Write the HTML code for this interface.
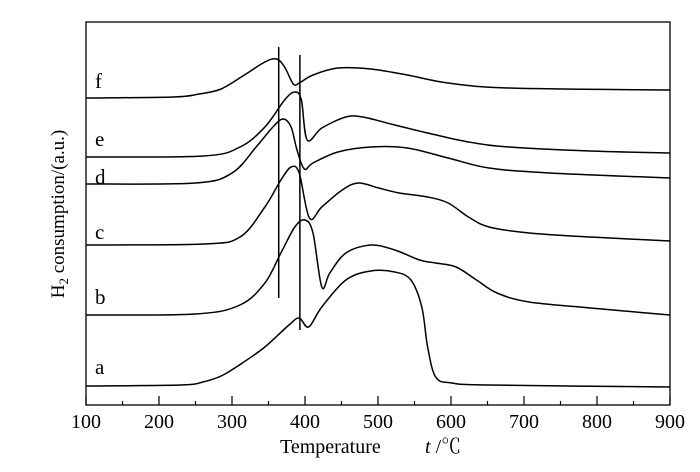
<!DOCTYPE html>
<html><head><meta charset="utf-8">
<style>
body{margin:0;background:#fff;}
svg{display:block;font-family:"Liberation Serif","Noto Serif CJK SC",serif;}
</style></head>
<body>
<svg id="chart" width="700" height="472">
<rect x="86" y="22" width="584" height="383" fill="none" stroke="#000" stroke-width="1.3"/>
<g id="ticks"></g>
<g id="series"></g>
<text x="280" y="453" font-size="20">Temperature</text>
<text x="425" y="453" font-size="20"><tspan font-style="italic">t</tspan> /℃</text>
<text transform="translate(64,214) rotate(-90)" text-anchor="middle" font-size="19">H<tspan font-size="13" dy="4">2</tspan><tspan dy="-4"> consumption/(a.u.)</tspan></text>
</svg>
<script>
const xTicks=[100,200,300,400,500,600,700,800,900];
const seriesLabels=["a","b","c","d","e","f"];
const labelValues=[37,107,172,227,265,323];
const Ta=[100,230,260,285,310,345,378,392,405,423,456,490,523,545,560,568,579,601,652,900];
const Va=[19,20,23,29,40,58,80,87,78,98,125,134,133,125,98,58,28,22,20,18];
const Tb=[100,250,311,345,367,386,400,411,423,434,456,490,523,557,579,607,635,663,707,791,900];
const Vb=[90,91,100,122,152,178,185,172,118,132,152,160,155,145,142,138,125,112,103,97,90];
const Tc=[100,261,311,345,367,381,392,406,423,451,473,501,529,568,596,624,652,707,791,900];
const Vc=[160,161,168,198,225,238,232,187,198,215,222,217,212,208,202,188,178,172,168,164];
const Td=[100,250,300,333,356,370,381,389,399,411,445,490,540,596,652,735,900];
const Vd=[221,222,232,258,278,286,278,255,236,242,253,258,257,247,237,232,227];
const Te=[100,261,311,345,372,386,395,403,423,456,479,523,568,624,680,791,900];
const Ve=[248,249,258,278,305,313,305,265,277,288,288,280,272,263,258,254,252];
const Tf=[100,220,255,285,317,345,361,372,384,392,411,445,490,540,596,680,900];
const Vf=[307,308,311,316,330,343,346,338,321,322,330,337,336,330,322,317,315];
const refLineT=[364,393];
const refLineTop=[358,350];
const refLineBottom=[107,75];

const X0=86,X1=670,Y0=405;
const xs=t=>X0+(t-100)/800*(X1-X0);
const ys=v=>Y0-v;
const NS="http://www.w3.org/2000/svg";
const tg=document.getElementById('ticks');
const sg=document.getElementById('series');

for(let t=100;t<=900;t+=50){
  const major=(t%100===0);
  const l=document.createElementNS(NS,'line');
  l.setAttribute('x1',xs(t));l.setAttribute('x2',xs(t));
  l.setAttribute('y1',Y0);l.setAttribute('y2',Y0-(major?9:4));
  l.setAttribute('stroke','#000');l.setAttribute('stroke-width','1.2');
  
  
  tg.appendChild(l);
}
xTicks.forEach(t=>{
  const tx=document.createElementNS(NS,'text');
  tx.setAttribute('x',xs(t));tx.setAttribute('y',428);
  tx.setAttribute('text-anchor','middle');tx.setAttribute('font-size','20');
  tx.textContent=t;
  
  
  tg.appendChild(tx);
});

function smooth(pts){
  let d='M'+pts[0][0].toFixed(1)+','+pts[0][1].toFixed(1);
  for(let i=0;i<pts.length-1;i++){
    const p0=pts[Math.max(0,i-1)],p1=pts[i],p2=pts[i+1],p3=pts[Math.min(pts.length-1,i+2)];
    const c1x=p1[0]+(p2[0]-p0[0])/6,c1y=p1[1]+(p2[1]-p0[1])/6;
    const c2x=p2[0]-(p3[0]-p1[0])/6,c2y=p2[1]-(p3[1]-p1[1])/6;
    d+=' C'+c1x.toFixed(1)+','+c1y.toFixed(1)+' '+c2x.toFixed(1)+','+c2y.toFixed(1)+' '+p2[0].toFixed(1)+','+p2[1].toFixed(1);
  }
  return d;
}
const all=[[Ta,Va],[Tb,Vb],[Tc,Vc],[Td,Vd],[Te,Ve],[Tf,Vf]];
all.forEach((s,i)=>{
  const pts=s[0].map((t,j)=>[xs(t),ys(s[1][j])]);
  const p=document.createElementNS(NS,'path');
  p.setAttribute('d',smooth(pts));
  p.setAttribute('fill','none');p.setAttribute('stroke','#000');p.setAttribute('stroke-width','1.5');
  
  
  sg.appendChild(p);
  const lb=document.createElementNS(NS,'text');
  lb.setAttribute('x',95);lb.setAttribute('y',ys(labelValues[i])+6);
  lb.setAttribute('font-size','21');
  lb.textContent=seriesLabels[i];
  
  
  sg.appendChild(lb);
});
refLineT.forEach((t,i)=>{
  const l=document.createElementNS(NS,'line');
  l.setAttribute('x1',xs(t));l.setAttribute('x2',xs(t));
  l.setAttribute('y1',ys(refLineTop[i]));l.setAttribute('y2',ys(refLineBottom[i]));
  l.setAttribute('stroke','#000');l.setAttribute('stroke-width','1.5');
  
  
  sg.appendChild(l);
});
</script>
</body></html>
